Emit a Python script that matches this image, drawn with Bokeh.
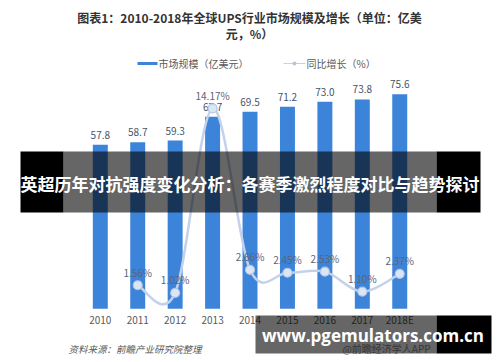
from bokeh.plotting import figure
from bokeh.models import Range1d, ColumnDataSource, Label, BoxAnnotation
from bokeh.core.properties import value
from bokeh.embed import file_html
from bokeh.resources import INLINE

# ---- data ----
years = ["2010", "2011", "2012", "2013", "2014", "2015", "2016", "2017", "2018E"]
market_size = [57.8, 58.7, 59.3, 67.7, 69.5, 71.2, 73.0, 73.8, 75.6]   # 亿美元
growth_years = ["2011", "2012", "2013", "2014", "2015", "2016", "2017", "2018E"]
growth_pct = [1.56, 1.02, 14.17, 2.66, 2.45, 2.53, 1.10, 2.37]          # %

title_line1 = "图表1：2010-2018年全球UPS行业市场规模及增长（单位：亿美"
title_line2 = "元，%）"
legend_bar = "市场规模（亿美元）"
legend_line = "同比增长（%）"
source_note = "资料来源：前瞻产业研究院整理"
app_note = "@前瞻经济学人APP"
banner_text = "英超历年对抗强度变化分析：各赛季激烈程度对比与趋势探讨"
site_text = "www.pgemulators.com.cn"

# ---- layout (canvas pixels) ----
W, H = 500, 362
X_FIRST, X_STEP = 99.8, 37.43          # centre of first category, spacing
BAR_BASE, BAR_SCALE = 308.3, 2.837     # baseline row, px per 亿美元
PCT_BASE, PCT_SCALE = 306.6, 14.02     # baseline row, px per %

BAR_COLOR = "#3C83DA"
LINE_COLOR = "#C3D2EA"
CJK = value("Noto Sans CJK SC")


def dx(px):
    return (px - X_FIRST) / X_STEP


def dy(py):
    return (BAR_BASE - py) / BAR_SCALE


p = figure(
    width=W, height=H, output_backend="svg", toolbar_location=None,
    x_axis_type=None, y_axis_type=None,
    x_range=Range1d(dx(0), dx(W)), y_range=Range1d(dy(H), dy(0)),
    min_border=0, outline_line_color=None,
)
p.extra_y_ranges = {"pct": Range1d((PCT_BASE - H) / PCT_SCALE, PCT_BASE / PCT_SCALE)}
p.grid.visible = False
p.background_fill_color = "white"
p.border_fill_color = "white"

idx = list(range(len(years)))
bars = ColumnDataSource(dict(x=idx, top=market_size, year=years,
                             lab=[f"{v:.1f}" for v in market_size]))
p.vbar(x="x", top="top", bottom=0, width=0.4, source=bars,
       fill_color=BAR_COLOR, line_color=None)
p.text(x="x", y="top", text="lab", source=bars, y_offset=-10,
       text_align="center", text_baseline="middle", text_font=CJK,
       text_font_size="10px", text_color="#44546A")
p.text(x="x", y=0, text="year", source=bars, y_offset=11,
       text_align="center", text_baseline="middle", text_font=CJK,
       text_font_size="10px", text_color="#595959")

# smoothed growth line (cardinal spline drawn as Bezier segments)
gx = [years.index(y) for y in growth_years]
pts = list(zip(gx, growth_pct))
n = len(pts)
segs = dict(x0=[], y0=[], x1=[], y1=[], cx0=[], cy0=[], cx1=[], cy1=[])
for i in range(n - 1):
    p0 = pts[max(i - 1, 0)]
    p1 = pts[i]
    p2 = pts[i + 1]
    p3 = pts[min(i + 2, n - 1)]
    segs["x0"].append(p1[0]); segs["y0"].append(p1[1])
    segs["x1"].append(p2[0]); segs["y1"].append(p2[1])
    segs["cx0"].append(p1[0] + (p2[0] - p0[0]) / 6)
    segs["cy0"].append(p1[1] + (p2[1] - p0[1]) / 6)
    segs["cx1"].append(p2[0] - (p3[0] - p1[0]) / 6)
    segs["cy1"].append(p2[1] - (p3[1] - p1[1]) / 6)
p.bezier(source=ColumnDataSource(segs), x0="x0", y0="y0", x1="x1", y1="y1",
         cx0="cx0", cy0="cy0", cx1="cx1", cy1="cy1",
         line_color=LINE_COLOR, line_width=2.5, y_range_name="pct")

growth = ColumnDataSource(dict(x=gx, y=growth_pct,
                               lab=[f"{v:.2f}%" for v in growth_pct]))
p.scatter(x="x", y="y", source=growth, size=9, fill_color="#DCE5F3",
          line_color="#B3C5E3", line_width=1.2, y_range_name="pct")
p.text(x="x", y="y", text="lab", source=growth, y_offset=-13,
       text_align="center", text_baseline="middle", text_font=CJK,
       text_font_size="10px", text_color="#5B6577", y_range_name="pct")

# ---- title ----
for txt, row in ((title_line1, 17), (title_line2, 33)):
    p.add_layout(Label(x=dx(249), y=dy(row), text=txt, text_align="center",
                       text_baseline="middle", text_font="Noto Sans CJK SC",
                       text_font_style="bold", text_font_size="12px",
                       text_color="#333333"))

# ---- legend ----
p.add_layout(BoxAnnotation(left=dx(137), right=dx(157), top=dy(61.5), bottom=dy(64.5),
                           fill_color=BAR_COLOR, fill_alpha=1, line_color=None))
p.add_layout(Label(x=dx(158), y=dy(63), text=legend_bar, text_align="left",
                   text_baseline="middle", text_font="Noto Sans CJK SC",
                   text_font_size="10px", text_color="#595959"))
p.add_layout(BoxAnnotation(left=dx(283), right=dx(305), top=dy(62.4), bottom=dy(63.6),
                           fill_color=LINE_COLOR, fill_alpha=1, line_color=None))
p.add_layout(BoxAnnotation(left=dx(292), right=dx(296), top=dy(61), bottom=dy(65),
                           fill_color="#B3C5E3", fill_alpha=1, line_color=None,
                           border_radius=2))
p.add_layout(Label(x=dx(306), y=dy(63), text=legend_line, text_align="left",
                   text_baseline="middle", text_font="Noto Sans CJK SC",
                   text_font_size="10px", text_color="#595959"))

# ---- source notes ----
p.add_layout(Label(x=dx(68), y=dy(348), text=source_note, text_align="left",
                   text_baseline="middle", text_font="Noto Sans CJK SC",
                   text_font_style="italic", text_font_size="9.5px",
                   text_color="#595959"))
p.add_layout(Label(x=dx(386), y=dy(348), text=app_note, text_align="center",
                   text_baseline="middle", text_font="Noto Sans CJK SC",
                   text_font_size="10px", text_color="#8A8A8A"))

# ---- banners ----
def band(left, right, top, bottom, alpha):
    p.add_layout(BoxAnnotation(left=dx(left), right=dx(right), top=dy(top),
                               bottom=dy(bottom), fill_color="black",
                               fill_alpha=alpha, line_color=None))


band(20, 63, 151, 212, 1.0)
band(63, 436, 151, 212, 0.6)
band(436, 480, 151, 212, 1.0)
p.add_layout(Label(x=dx(249.5), y=dy(183), text=banner_text, text_align="center",
                   text_baseline="middle", text_font="Noto Sans CJK SC",
                   text_font_style="bold", text_font_size="17px",
                   text_color="white"))

band(255, 436, 315, 353, 0.6)
band(436, 491, 315, 353, 1.0)
p.add_layout(Label(x=dx(372.5), y=dy(335), text=site_text, text_align="center",
                   text_baseline="middle", text_font="Open Sans",
                   text_font_style="bold", text_font_size="17px",
                   text_color="white"))

open("out.html", "w").write(file_html(p, INLINE))
